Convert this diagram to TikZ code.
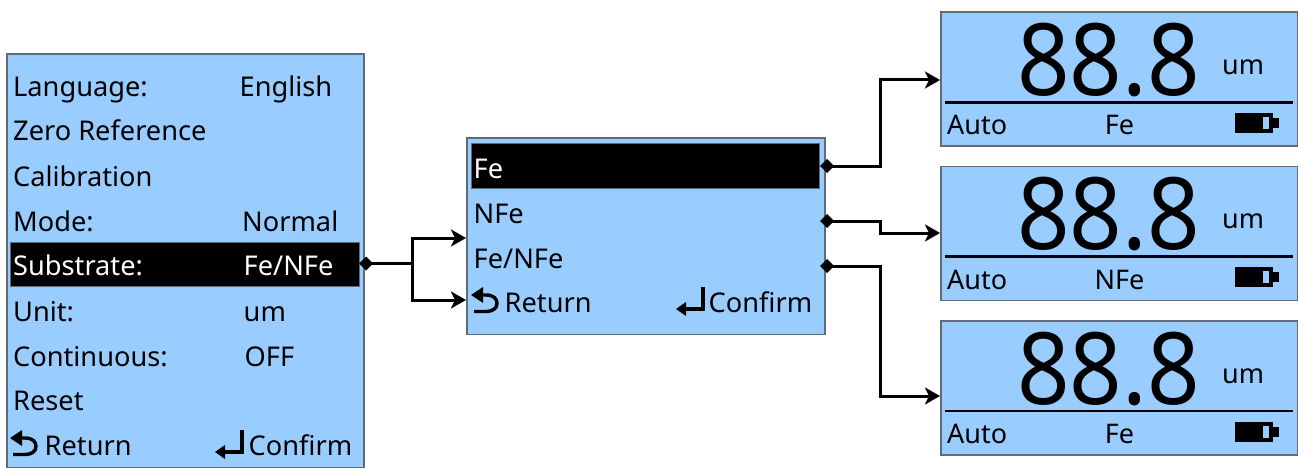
\documentclass[tikz,border=0pt]{standalone}
\usepackage{fontspec}
\usetikzlibrary{arrows.meta}
\setmainfont{Noto Sans}
\definecolor{lcd}{HTML}{99CCFF}
\definecolor{edge}{HTML}{5F6B75}
\tikzset{
  x=1pt,y=-1pt,
  screen/.style={draw=edge,line width=1.8pt,fill=lcd,inner sep=0pt,anchor=north west},
  selbar/.style={draw=edge,line width=.6pt,fill=black,inner sep=0pt,anchor=north west},
  txt/.style={inner sep=0pt,anchor=base west,font=\fontsize{27.2}{27.2}\selectfont,text=black},
  sel/.style={txt,text=white},
  small/.style={inner sep=0pt,anchor=base west,font=\fontsize{27}{27}\selectfont,text=black},
  big/.style={inner sep=0pt,anchor=base,font=\fontsize{100}{100}\selectfont,text=black,xscale=.92},
  conn/.style={draw=black,line width=3pt,-{Stealth[length=15pt,width=17pt,inset=4pt]}},
  stub/.style={draw=black,line width=3pt},
  icon/.style={draw=black,line width=3.4pt},
  rule/.style={draw=black,line width=2.6pt}
}
\newcommand{\retsym}[1]{%
  \begin{scope}[shift={#1}]
    \draw[icon] (12,-12) -- (16,-12) .. controls (24,-12) and (27,-8) .. (27,-3.5) .. controls (27,1) and (23,4.5) .. (16,4.5) -- (4,4.5);
    \fill[black] (1,-12) -- (13,-20) -- (13,-4) -- cycle;
  \end{scope}}
\newcommand{\entsym}[1]{%
  \begin{scope}[shift={#1}]
    \draw[icon] (27,-20) -- (27,2) -- (8,2);
    \fill[black] (0,2) -- (10,-5) -- (10,9) -- cycle;
  \end{scope}}
\newcommand{\battery}[1]{%
  \begin{scope}[shift={#1}]
    \fill[black] (0,0) rectangle (38,20);
    \fill[lcd] (28,4) rectangle (34,16);
    \fill[black] (38,5) rectangle (44,15);
  \end{scope}}
\newcommand{\dmd}[1]{\fill[black] #1 ++(-7,0) -- ++(7,-7) -- ++(7,7) -- ++(-7,7) -- cycle;}
\begin{document}
\begin{tikzpicture}
\useasboundingbox (0,0) rectangle (1298,468);
% screens
\node[screen,minimum width=357pt,minimum height=413pt] (menu) at (6,53.5) {};
\node[screen,minimum width=358pt,minimum height=196pt] (sub) at (466,137.5) {};
\node[screen,minimum width=357pt,minimum height=134pt] (r1) at (940,11.5) {};
\node[screen,minimum width=357pt,minimum height=134pt] (r2) at (940,165.5) {};
\node[screen,minimum width=357pt,minimum height=134pt] (r3) at (940,320) {};
% bars
\node[selbar,minimum width=349pt,minimum height=44pt] (mbar) at (10,241.5) {};
\node[selbar,minimum width=348pt,minimum height=45pt] (sbar) at (471,143) {};
% menu
\node[txt] (m1) at (13,97) {Language:};
\node[txt] (m1v) at (239.5,97) {English};
\node[txt] (m2) at (13,141) {Zero Reference};
\node[txt] (m3) at (13,186) {Calibration};
\node[txt] (m4) at (13,231) {Mode:};
\node[txt] (m4v) at (242,231) {Normal};
\node[sel] (m5) at (13,275) {Substrate:};
\node[sel] (m5v) at (243.5,275) {Fe/NFe};
\node[txt] (m6) at (13,321) {Unit:};
\node[txt] (m6v) at (243.5,321) {um};
\node[txt] (m7) at (13,366) {Continuous:};
\node[txt] (m7v) at (244.5,366) {OFF};
\node[txt] (m8) at (13,410) {Reset};
\retsym{(9,450)}
\node[txt] (m9) at (44.5,455) {Return};
\entsym{(215,450)}
\node[txt] (m10) at (248.5,455) {Confirm};
% substrate list
\node[sel] (s1) at (473.5,178) {Fe};
\node[txt] (s2) at (473.5,223) {NFe};
\node[txt] (s3) at (473.5,268) {Fe/NFe};
\retsym{(470,307)}
\node[txt] (s4) at (504.5,312) {Return};
\entsym{(676,307)}
\node[txt] (s5) at (708.5,312) {Confirm};
% readouts
\foreach \n/\y/\lab in {a/12/Fe,b/166/NFe,c/320.5/Fe}{
  \node[big] (big\n) at (1108.5,\y+83.5) {88.8};
  \node[small] (um\n) at (1222,\y+62.5) {um};
  \node[small] (auto\n) at (947,\y+123) {Auto};
  \node[small,anchor=base] (lab\n) at (1119.5,\y+123) {\lab};
  \coordinate (rl\n) at (945,\y+90.5);
  \coordinate (rr\n) at (1293,\y+90.5);
  \draw[rule] (rl\n) -- (rr\n);
  \battery{(1235,\y+101)}
}
% connectors
\coordinate (pm) at (menu.east |- 0,263.5);
\coordinate (p1) at (826,166);
\coordinate (p2) at (826,221);
\coordinate (p3) at (826,266);
\coordinate (j) at (412,263.5);
\coordinate (t1) at (466,238);
\coordinate (t2) at (466,300);
\coordinate (e1) at (940,80);
\coordinate (e2) at (940,233);
\coordinate (e3) at (940,396);
\draw[stub] (pm) -- (j);
\draw[conn] (j) |- (t1);
\draw[conn] (j) |- (t2);
\draw[conn] (p1) -- (880,166) |- (e1);
\draw[conn] (p2) -- (880,221) |- (e2);
\draw[conn] (p3) -- (880,266) |- (e3);
\dmd{(366,263.5)}
\dmd{(827,166)}
\dmd{(827,221)}
\dmd{(827,266)}
\end{tikzpicture}
\end{document}
